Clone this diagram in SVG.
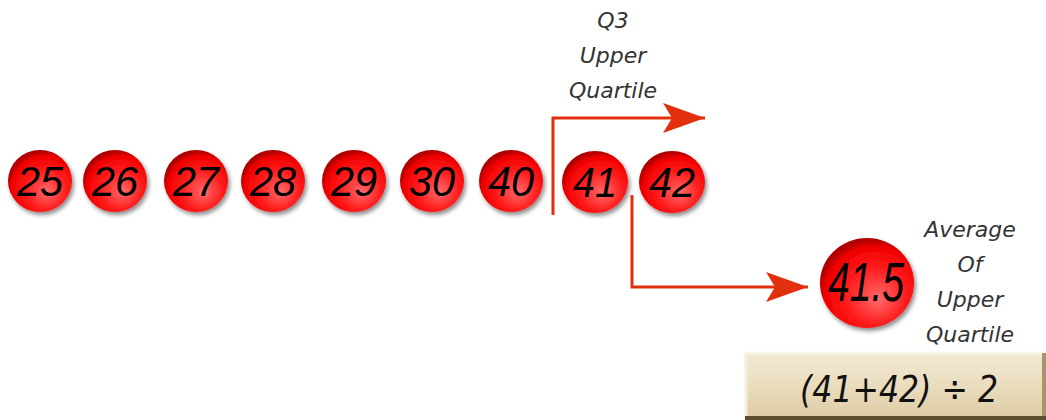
<svg xmlns="http://www.w3.org/2000/svg" width="1046" height="420" viewBox="0 0 1046 420">
<defs>
<radialGradient id="ballG" cx="0.58" cy="0.62" r="0.6" fx="0.62" fy="0.68">
<stop offset="0" stop-color="#ff6a6a"/>
<stop offset="0.55" stop-color="#ff1a1a"/>
<stop offset="0.88" stop-color="#f00000"/>
<stop offset="1" stop-color="#b00000"/>
</radialGradient>
<linearGradient id="boxG" x1="0" y1="0" x2="0" y2="1">
<stop offset="0" stop-color="#f3ead6"/>
<stop offset="0.5" stop-color="#eadcbc"/>
<stop offset="1" stop-color="#dccaa2"/>
</linearGradient>
<filter id="sh" x="-30%" y="-30%" width="160%" height="160%">
<feDropShadow dx="2" dy="3" stdDeviation="2" flood-color="#000" flood-opacity="0.45"/>
</filter>
<marker id="arr" markerUnits="userSpaceOnUse" markerWidth="44" markerHeight="34" refX="42" refY="16" orient="auto" viewBox="0 0 44 34">
<path d="M0,1 L42,16 L0,31 L9,16 Z" fill="#e2300e"/>
</marker>
</defs>
<style>
.ball{fill:url(#ballG);filter:url(#sh);}
.num{font-family:"Liberation Sans",Arial,sans-serif;font-style:italic;font-size:43px;fill:#000;text-anchor:middle;}
.lab{font-family:"DejaVu Sans",Verdana,sans-serif;font-style:italic;font-size:22px;fill:#333;text-anchor:middle;}
.con{fill:none;stroke:#e2300e;stroke-width:3;}
</style>
<g id="n25"><ellipse class="ball" cx="40" cy="181" rx="32" ry="31"/><text class="num" x="40" y="196" textLength="46" lengthAdjust="spacingAndGlyphs">25</text></g>
<g id="n26"><ellipse class="ball" cx="115" cy="181" rx="32" ry="31"/><text class="num" x="115" y="196" textLength="46" lengthAdjust="spacingAndGlyphs">26</text></g>
<g id="n27"><ellipse class="ball" cx="196" cy="181" rx="32" ry="31"/><text class="num" x="196" y="196" textLength="46" lengthAdjust="spacingAndGlyphs">27</text></g>
<g id="n28"><ellipse class="ball" cx="273" cy="181" rx="32" ry="31"/><text class="num" x="273" y="196" textLength="46" lengthAdjust="spacingAndGlyphs">28</text></g>
<g id="n29"><ellipse class="ball" cx="354" cy="181" rx="32" ry="31"/><text class="num" x="354" y="196" textLength="46" lengthAdjust="spacingAndGlyphs">29</text></g>
<g id="n30"><ellipse class="ball" cx="432" cy="181" rx="32" ry="31"/><text class="num" x="432" y="196" textLength="46" lengthAdjust="spacingAndGlyphs">30</text></g>
<g id="n40"><ellipse class="ball" cx="511" cy="181" rx="32" ry="31"/><text class="num" x="511" y="196" textLength="46" lengthAdjust="spacingAndGlyphs">40</text></g>
<g id="n41"><ellipse class="ball" cx="595" cy="182" rx="33" ry="31"/><text class="num" x="595" y="197" textLength="44" lengthAdjust="spacingAndGlyphs">41</text></g>
<g id="n42"><ellipse class="ball" cx="672" cy="182" rx="33" ry="31"/><text class="num" x="672" y="197" textLength="46" lengthAdjust="spacingAndGlyphs">42</text></g>
<g id="avg"><ellipse class="ball" cx="867" cy="283" rx="47" ry="45"/><text class="num" x="866" y="301" textLength="76" lengthAdjust="spacingAndGlyphs" style="font-size:56px">41.5</text></g>
<g id="q3label">
<text class="lab" x="613" y="28">Q3</text>
<text class="lab" x="613" y="63">Upper</text>
<text class="lab" x="613" y="98">Quartile</text>
</g>
<g id="avglabel">
<text class="lab" x="970" y="237">Average</text>
<text class="lab" x="970" y="272">Of</text>
<text class="lab" x="970" y="307">Upper</text>
<text class="lab" x="970" y="342">Quartile</text>
</g>
<g id="formula">
<rect x="745" y="353" width="301" height="67" fill="url(#boxG)"/>
<path d="M745,353 H1046" stroke="#fbf6ea" stroke-width="3"/>
<path d="M746,353 V420" stroke="#f6eedc" stroke-width="3"/>
<path d="M1044,353 V420" stroke="#a8946a" stroke-width="4"/>
<path d="M745,418 H1046" stroke="#5e4e30" stroke-width="4"/>
<text x="899" y="402" font-family="'DejaVu Sans',Verdana,sans-serif" font-style="italic" font-size="38" fill="#111" text-anchor="middle" textLength="198" lengthAdjust="spacingAndGlyphs">(41+42) ÷ 2</text>
</g>
<g id="connectors">
<path class="con" d="M553,215 V118 H705" marker-end="url(#arr)"/>
<path class="con" d="M632,195 V287 H808" marker-end="url(#arr)"/>
</g>
</svg>
